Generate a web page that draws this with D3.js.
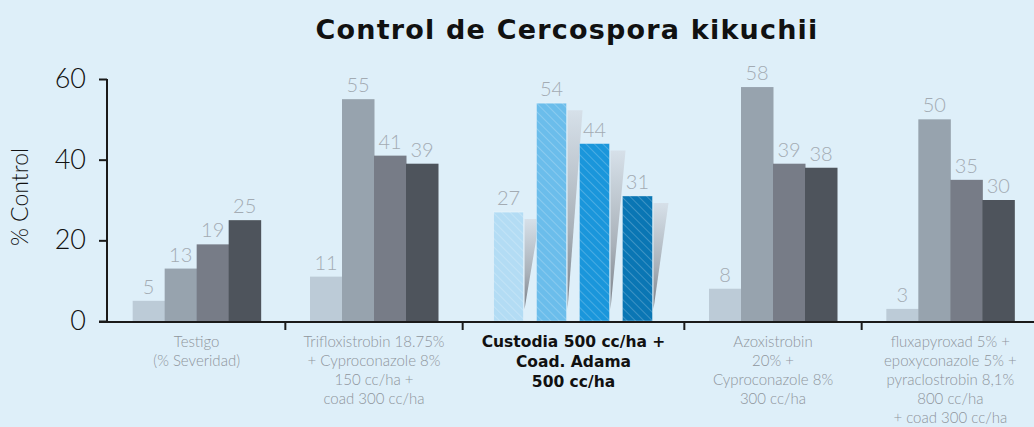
<!DOCTYPE html>
<html>
<head>
<meta charset="utf-8">
<script src="https://cdn.jsdelivr.net/npm/d3@7"></script>
<style>
  html, body { margin: 0; padding: 0; background: #DEEFF9; }
  svg { display: block; }
</style>
</head>
<body>
<div id="chart"></div>
<script>
// ---- data ----
const categories = ["Testigo", "Trifloxistrobin", "Custodia", "Azoxistrobin", "fluxapyroxad"];
const categoryLines = [
  ["Testigo", "(% Severidad)"],
  ["Trifloxistrobin 18.75%", "+ Cyproconazole 8%", "150 cc/ha +", "coad 300 cc/ha"],
  ["Custodia 500 cc/ha +", "Coad. Adama", "500 cc/ha"],
  ["Azoxistrobin", "20% +", "Cyproconazole 8%", "300 cc/ha"],
  ["fluxapyroxad 5% +", "epoxyconazole 5% +", "pyraclostrobin 8,1%", "800 cc/ha", "+ coad 300 cc/ha"]
];
const seriesNames = ["s1", "s2", "s3", "s4"];
const series1 = [5, 11, 27, 8, 3];
const series2 = [13, 55, 54, 58, 50];
const series3 = [19, 41, 44, 39, 35];
const series4 = [25, 39, 31, 38, 30];
const yTicks = [0, 20, 40, 60];
const highlightCategory = "Custodia";

// ---- style / layout ----
const W = 1034, H = 427;
const greyColors = ["#BCCBD7", "#97A3AE", "#777C87", "#4E545C"];
const blueColors = ["#B3DCF4", "#6BBDEB", "#1A96DB", "#0A76B4"];
const bandWeights = [1, 1, 1.25, 1, 1];
const font = "Lato, 'Open Sans', sans-serif";
const boldFont = "'DejaVu Sans', Lato, sans-serif";

const svg = d3.select("#chart").append("svg").attr("width", W).attr("height", H);
svg.append("rect").attr("width", W).attr("height", H).attr("fill", "#DEEFF9");

const defs = svg.append("defs");
const pat = defs.append("pattern").attr("id", "hatch")
  .attr("patternUnits", "userSpaceOnUse").attr("width", 6).attr("height", 6)
  .attr("patternTransform", "rotate(-45)");
pat.append("line").attr("x1", 0).attr("y1", 0).attr("x2", 0).attr("y2", 6)
  .attr("stroke", "rgba(255,255,255,0.28)").attr("stroke-width", 1.5);
const grad = defs.append("linearGradient").attr("id", "shadowGrad")
  .attr("x1", 0).attr("y1", 0).attr("x2", 0).attr("y2", 1);
grad.append("stop").attr("offset", "0%").attr("stop-color", "#D6E0E9");
grad.append("stop").attr("offset", "60%").attr("stop-color", "#A9B1B9");
grad.append("stop").attr("offset", "100%").attr("stop-color", "#7A8088");

// scales
const y = d3.scaleLinear().domain([0, 60]).range([321, 79]);
const cum = [0];
bandWeights.forEach(w => cum.push(cum[cum.length - 1] + w));
const xu = d3.scaleLinear().domain([0, cum[cum.length - 1]]).range([108, 1039]);
const bandStart = categories.map((c, i) => xu(cum[i]));
const bandEnd = categories.map((c, i) => xu(cum[i + 1]));
const bandCenter = categories.map((c, i) => (bandStart[i] + bandEnd[i]) / 2);

const allSeries = [series1, series2, series3, series4];

// title
svg.append("text").attr("x", 567).attr("y", 39).attr("text-anchor", "middle")
  .attr("font-family", boldFont).attr("font-weight", 700).attr("font-size", 27)
  .attr("letter-spacing", 1.2)
  .attr("fill", "#111").text("Control de Cercospora kikuchii");

// y axis
const yAxis = d3.axisLeft(y).tickValues(yTicks).tickSize(8).tickPadding(13);
const gy = svg.append("g").attr("transform", "translate(107,0)").call(yAxis);
gy.select(".domain").attr("stroke", "#1a1a1a").attr("stroke-width", 2).attr("d", `M0,${y(60)}V${y(0)}`);
gy.selectAll(".tick line").attr("stroke", "#1a1a1a").attr("stroke-width", 2);
gy.selectAll(".tick text").attr("font-family", font).attr("font-weight", 300)
  .attr("font-size", 27).attr("fill", "#111");

svg.append("text").attr("transform", "translate(28,197) rotate(-90)")
  .attr("text-anchor", "middle").attr("font-family", font).attr("font-weight", 300)
  .attr("font-size", 23).attr("fill", "#111").text("% Control");

// bars
categories.forEach((cat, i) => {
  const c = bandCenter[i];
  const hl = cat === highlightCategory;
  const inner = hl
    ? d3.scaleBand().domain(seriesNames).range([c - 80, c + 79]).paddingInner(0.3).paddingOuter(0)
    : d3.scaleBand().domain(seriesNames).range([c - 64, c + 64]).padding(0);
  const g = svg.append("g");
  seriesNames.forEach((s, j) => {
    const v = allSeries[j][i];
    const x0 = inner(s), bw = inner.bandwidth();
    if (hl) {
      const xr = x0 + bw + 1;
      g.append("polygon")
        .attr("points", [[xr, y(v) + 7], [xr + 15, y(v) + 7], [xr, y(0) - 12]].map(p => p.join(",")).join(" "))
        .attr("fill", "url(#shadowGrad)");
      g.append("rect").attr("x", x0).attr("y", y(v)).attr("width", bw).attr("height", y(0) - y(v))
        .attr("fill", blueColors[j]);
      g.append("rect").attr("x", x0).attr("y", y(v)).attr("width", bw).attr("height", y(0) - y(v))
        .attr("fill", "url(#hatch)").attr("stroke", "rgba(255,255,255,0.35)").attr("stroke-width", 1);
    } else {
      g.append("rect").attr("x", x0).attr("y", y(v)).attr("width", bw + 0.5).attr("height", y(0) - y(v))
        .attr("fill", greyColors[j]);
    }
    g.append("text").attr("x", x0 + bw / 2).attr("y", y(v) - 7).attr("text-anchor", "middle")
      .attr("font-family", font).attr("font-weight", 300).attr("font-size", 20)
      .attr("fill", "#A3ABB3").text(v);
  });
});

// x axis
svg.append("line").attr("x1", 99).attr("x2", W).attr("y1", 322).attr("y2", 322)
  .attr("stroke", "#1a1a1a").attr("stroke-width", 2);
bandEnd.slice(0, -1).forEach(xe => {
  svg.append("line").attr("x1", xe).attr("x2", xe).attr("y1", 322).attr("y2", 330)
    .attr("stroke", "#1a1a1a").attr("stroke-width", 2);
});

// category labels
categories.forEach((cat, i) => {
  const hl = cat === highlightCategory;
  const t = svg.append("text").attr("text-anchor", "middle")
    .attr("font-family", hl ? boldFont : font).attr("font-weight", hl ? 700 : 300)
    .attr("font-size", hl ? 15.5 : 15).attr("fill", hl ? "#111" : "#8E959C");
  categoryLines[i].forEach((ln, k) => {
    t.append("tspan").attr("x", bandCenter[i]).attr("y", 347 + k * (hl ? 20 : 19)).text(ln);
  });
});
</script>
</body>
</html>
